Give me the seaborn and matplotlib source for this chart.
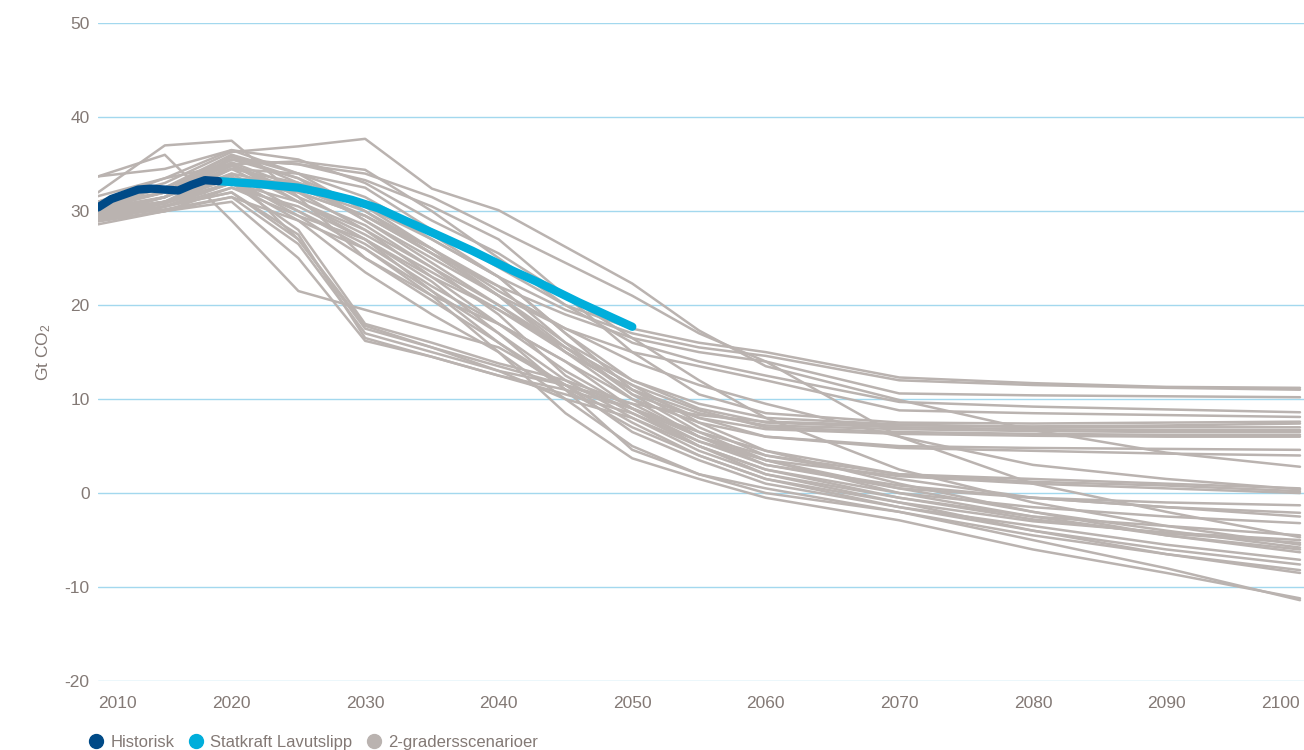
import numpy as np
import pandas as pd
import matplotlib
matplotlib.use("Agg")
import matplotlib.pyplot as plt
from matplotlib.lines import Line2D
import seaborn as sns

# ---------------------------------------------------------------------
# Data (Gt CO2)
# ---------------------------------------------------------------------
hist_years = [2010, 2011, 2012, 2013, 2014, 2015, 2016, 2017, 2018, 2019]
hist_values = [30.4, 31.3, 31.8, 32.3, 32.4, 32.3, 32.2, 32.8, 33.3, 33.2]

statkraft_years = [2019, 2020, 2022, 2025, 2027, 2029, 2031, 2033, 2036, 2038,
                   2041, 2043, 2046, 2048, 2050]
statkraft_values = [33.2, 33.1, 32.9, 32.5, 31.9, 31.2, 30.3, 29.0, 27.1, 25.8,
                    23.7, 22.4, 20.3, 19.0, 17.7]

scenario_years = [2010, 2015, 2020, 2025, 2030, 2035, 2040, 2045, 2050, 2055,
                  2060, 2070, 2080, 2090, 2100]
scenario_values = [
    [29.5, 31.5, 34.5, 34.0, 32.5, 28.0, 24.0, 20.0, 17.5, 16.0, 15.0, 12.3, 11.7, 11.3, 11.2],
    [30.0, 31.0, 33.5, 33.0, 31.0, 27.0, 23.0, 19.5, 17.0, 15.5, 14.6, 12.0, 11.5, 11.2, 11.0],
    [29.0, 30.5, 33.0, 32.0, 29.5, 26.0, 22.0, 19.0, 16.5, 15.0, 14.0, 10.6, 10.4, 10.3, 10.2],
    [30.5, 32.0, 35.0, 35.3, 34.4, 30.0, 25.0, 20.0, 16.0, 14.0, 12.5, 9.7, 9.2, 8.9, 8.6],
    [29.8, 31.0, 34.0, 32.5, 30.0, 25.5, 21.0, 17.5, 15.0, 13.5, 12.0, 8.8, 8.5, 8.3, 8.1],
    [30.0, 31.5, 35.5, 35.0, 33.3, 30.5, 27.0, 21.0, 15.0, 10.5, 8.5, 7.5, 7.4, 7.5, 7.6],
    [29.5, 31.0, 34.5, 33.0, 30.5, 27.0, 23.0, 17.0, 12.0, 9.5, 8.0, 7.3, 7.0, 7.0, 7.0],
    [30.2, 32.0, 36.0, 33.0, 29.0, 25.0, 21.0, 16.0, 12.0, 9.0, 7.5, 7.0, 6.8, 6.7, 6.7],
    [29.2, 30.5, 33.0, 31.0, 28.0, 24.0, 20.0, 15.0, 11.0, 8.5, 7.2, 6.8, 6.6, 6.5, 6.5],
    [29.0, 30.0, 32.5, 30.5, 27.0, 23.0, 19.5, 15.5, 11.5, 8.8, 7.0, 6.5, 6.3, 6.2, 6.2],
    [30.8, 32.5, 35.0, 32.0, 29.5, 25.5, 22.0, 16.0, 10.5, 8.0, 6.8, 6.3, 6.1, 6.0, 6.0],
    [29.6, 30.8, 33.8, 27.0, 17.8, 15.5, 13.5, 11.5, 9.5, 8.3, 7.6, 7.2, 7.1, 7.2, 7.4],
    [31.6, 33.5, 35.0, 31.0, 27.5, 23.5, 19.5, 15.0, 11.0, 8.0, 6.0, 5.0, 4.8, 4.7, 4.6],
    [29.4, 30.8, 33.0, 30.0, 26.5, 22.0, 18.0, 14.0, 10.0, 7.5, 6.0, 4.8, 4.5, 4.2, 4.0],
    [33.7, 34.5, 36.5, 34.0, 30.0, 26.0, 21.5, 17.5, 14.0, 11.5, 9.5, 6.0, 3.0, 1.5, 0.4],
    [30.5, 32.5, 35.5, 33.5, 29.0, 24.5, 20.0, 15.5, 11.5, 7.5, 4.5, 2.0, 1.5, 1.0, 0.5],
    [29.3, 30.2, 31.5, 26.5, 17.0, 15.0, 13.0, 11.5, 9.0, 6.0, 4.0, 2.0, 1.2, 0.8, 0.2],
    [28.6, 30.0, 31.0, 25.0, 16.2, 14.5, 12.5, 10.5, 8.5, 5.5, 3.5, 1.8, 1.0, 0.5, 0.0],
    [30.0, 31.5, 34.8, 32.0, 28.0, 23.0, 18.0, 13.0, 9.0, 5.5, 3.0, 0.5, -0.5, -1.0, -1.3],
    [29.7, 31.5, 35.8, 33.5, 30.5, 26.0, 21.0, 15.0, 10.0, 6.0, 3.0, 0.8, -0.5, -1.5, -2.1],
    [31.0, 32.5, 36.0, 34.0, 31.5, 27.5, 23.0, 17.0, 11.0, 7.0, 4.0, 1.5, -0.5, -1.5, -2.5],
    [29.5, 30.5, 32.0, 27.0, 17.5, 15.5, 13.0, 10.0, 8.0, 5.0, 2.5, 0.0, -1.5, -2.5, -3.2],
    [30.3, 31.5, 34.0, 30.0, 26.0, 21.5, 17.0, 12.0, 8.0, 4.5, 2.0, -0.5, -2.5, -3.5, -4.5],
    [29.6, 31.0, 33.5, 29.5, 25.0, 20.5, 16.0, 11.5, 7.5, 4.0, 1.5, -1.0, -3.0, -4.2, -5.0],
    [30.8, 32.0, 35.0, 31.5, 28.5, 24.0, 19.0, 12.5, 8.5, 5.0, 2.5, -0.5, -2.8, -4.3, -5.3],
    [31.0, 33.5, 36.5, 35.5, 33.0, 29.0, 25.5, 21.0, 16.5, 12.0, 8.0, 2.5, -1.0, -3.5, -5.5],
    [30.0, 31.0, 33.0, 28.0, 18.0, 16.0, 13.8, 12.0, 9.5, 6.0, 3.5, 0.5, -2.0, -4.0, -5.8],
    [29.9, 31.5, 35.2, 32.5, 29.5, 25.5, 21.0, 15.5, 10.5, 6.5, 3.5, 0.0, -2.5, -4.5, -6.0],
    [29.0, 30.5, 32.0, 27.5, 16.5, 14.5, 12.5, 11.0, 9.0, 6.5, 4.5, 1.0, -2.0, -4.5, -6.3],
    [30.4, 32.0, 34.5, 31.0, 27.0, 21.5, 16.0, 11.0, 7.0, 4.0, 1.5, -1.5, -3.5, -5.5, -7.1],
    [33.7, 36.0, 29.0, 21.5, 19.5, 17.5, 15.5, 11.5, 6.5, 3.5, 1.0, -1.5, -4.0, -6.0, -7.6],
    [32.0, 37.0, 37.5, 31.5, 25.0, 21.0, 18.0, 14.0, 9.0, 5.0, 2.0, -1.0, -4.0, -6.5, -8.2],
    [30.1, 31.0, 33.0, 29.0, 23.5, 19.0, 15.0, 10.0, 5.0, 2.0, 0.0, -2.0, -4.5, -6.5, -8.5],
    [28.9, 30.0, 31.5, 29.0, 26.0, 21.0, 15.0, 8.5, 3.7, 1.5, -0.5, -2.9, -6.0, -8.5, -11.2],
    [29.4, 30.5, 32.5, 29.5, 27.0, 22.5, 17.0, 11.0, 4.6, 2.0, 0.5, -2.0, -5.0, -8.0, -11.4],
    [31.0, 33.0, 36.3, 36.9, 37.7, 32.4, 30.1, 26.2, 22.3, 17.3, 13.5, 9.9, 6.7, 4.3, 2.8],
    [30.5, 32.0, 35.5, 35.0, 34.0, 31.5, 28.0, 24.5, 21.0, 17.0, 14.0, 6.0, 1.0, -2.0, -4.7],
]

labels = ["Historisk", "Statkraft Lavutslipp", "2-gradersscenarioer"]
x_ticks = list(range(2010, 2101, 10))
y_ticks = list(range(-20, 51, 10))

# colours
c_hist = "#004a87"
c_stat = "#00aedb"
c_scen = "#bab3b0"
c_grid = "#a3d8ee"
c_text = "#837975"

# long-form table for seaborn
rows = []
for i, vals in enumerate(scenario_values):
    for yr, v in zip(scenario_years, vals):
        rows.append((i, yr, v))
df_scen = pd.DataFrame(rows, columns=["scenario", "year", "value"])
df_hist = pd.DataFrame({"year": hist_years, "value": hist_values})
df_stat = pd.DataFrame({"year": statkraft_years, "value": statkraft_values})

########################################################################
#                                Plot                                  #
########################################################################
sns.set_theme(style="white")
plt.rcParams["font.family"] = ["Liberation Sans", "DejaVu Sans"]
plt.rcParams["mathtext.default"] = "regular"
plt.rcParams["axes.unicode_minus"] = False

fig, ax = plt.subplots(figsize=(13.04, 7.5), dpi=100)
fig.subplots_adjust(left=0.0752, right=1.0, top=0.969, bottom=0.092)

sns.lineplot(data=df_scen, x="year", y="value", units="scenario", estimator=None,
             color=c_scen, linewidth=1.8, ax=ax, zorder=2)
sns.lineplot(data=df_hist, x="year", y="value", color=c_hist, linewidth=6,
             solid_capstyle="round", solid_joinstyle="round", ax=ax, zorder=4)
sns.lineplot(data=df_stat, x="year", y="value", color=c_stat, linewidth=6,
             solid_capstyle="round", solid_joinstyle="round", ax=ax, zorder=3)

ax.set_xlim(2010, 2100.3)
ax.set_ylim(-20, 50)
ax.set_yticks(y_ticks)
ax.set_xticks(x_ticks)
ax.set_xticklabels([str(t) for t in x_ticks])
xt = ax.get_xticklabels()
xt[0].set_horizontalalignment("left")
xt[-1].set_horizontalalignment("right")

ax.grid(axis="y", color=c_grid, linewidth=1.0)
ax.grid(axis="x", visible=False)
ax.set_axisbelow(True)
for s in ax.spines.values():
    s.set_visible(False)
ax.tick_params(axis="both", length=0, labelsize=12.5, colors=c_text)
ax.tick_params(axis="y", pad=6)
ax.tick_params(axis="x", pad=11)

ax.set_xlabel("")
ax.set_ylabel("Gt CO$_2$", fontsize=12.5, color=c_text, labelpad=8)

handles = [Line2D([], [], marker="o", linestyle="none", markersize=10, color=c)
           for c in (c_hist, c_stat, c_scen)]
fig.legend(handles, labels, loc="lower left", bbox_to_anchor=(0.056, -0.02),
           ncol=3, frameon=False, fontsize=12, handlelength=1.0,
           handletextpad=0.35, columnspacing=0.8, labelcolor=c_text)

fig.savefig("out.png", dpi=100)
